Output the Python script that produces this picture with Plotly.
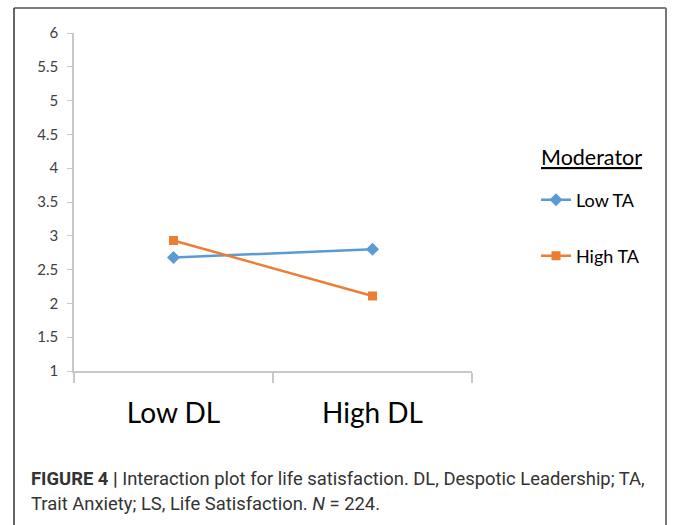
import plotly.graph_objects as go

categories = ["Low DL", "High DL"]
low_ta = [2.68, 2.80]
high_ta = [2.93, 2.11]
series_names = ["Low TA", "High TA"]
y_ticks = [1, 1.5, 2, 2.5, 3, 3.5, 4, 4.5, 5, 5.5, 6]
y_tick_text = ["1", "1.5", "2", "2.5", "3", "3.5", "4", "4.5", "5", "5.5", "6"]

W, H = 673, 525
L, R, T, B = 74, 472, 33, 371
pw, ph = R - L, B - T

def px(x):
    return (x - L) / pw

def py(y):
    return (B - y) / ph

blue = "#5B9BD5"
orange = "#ED7D31"

fig = go.Figure()
fig.add_trace(go.Scatter(x=categories, y=low_ta, name=series_names[0], mode="lines+markers",
                         line=dict(color=blue, width=2.5),
                         marker=dict(symbol="diamond", size=10, color=blue), legend="legend"))
fig.add_trace(go.Scatter(x=categories, y=high_ta, name=series_names[1], mode="lines+markers",
                         line=dict(color=orange, width=2.5),
                         marker=dict(symbol="square", size=9, color=orange), legend="legend2"))

axis_gray = "#C8C8C8"
chart_font = "Lato, Open Sans, sans-serif"
cap_font = "Roboto, Liberation Sans, sans-serif"

fig.update_layout(
    width=W, height=H,
    margin=dict(l=L, r=W - R, t=T, b=H - B, pad=0),
    paper_bgcolor="white", plot_bgcolor="white",
    font=dict(family=chart_font, color="#404040"),
    xaxis=dict(type="category", range=[-0.5, 1.5], tickson="boundaries", ticks="outside",
               ticklen=10, tickcolor=axis_gray, tickwidth=1.5, showline=True, linecolor=axis_gray,
               linewidth=1.5, showgrid=False, zeroline=False,
               tickfont=dict(size=28, color="#000000", family=chart_font), ticklabelstandoff=17),
    yaxis=dict(range=[1, 6], tickvals=y_ticks, ticktext=y_tick_text, ticks="outside", ticklen=5,
               tickcolor=axis_gray, tickwidth=1, showline=True, linecolor=axis_gray, linewidth=1.5,
               showgrid=False, zeroline=False, tickfont=dict(size=15, color="#404040"),
               ticklabelstandoff=6),
    legend=dict(x=px(536), y=py(200), xanchor="left", yanchor="middle", bgcolor="rgba(0,0,0,0)",
                font=dict(size=18, color="#000000", family=chart_font)),
    legend2=dict(x=px(536), y=py(256), xanchor="left", yanchor="middle", bgcolor="rgba(0,0,0,0)",
                 font=dict(size=18, color="#000000", family=chart_font)),
    showlegend=True,
)

fig.add_annotation(x=px(591), y=py(157), xref="paper", yref="paper", text="<u>Moderator</u>",
                   showarrow=False, xanchor="center", yanchor="middle",
                   font=dict(size=21.5, color="#000000", family=chart_font))

fig.add_annotation(x=px(29), y=py(478), xref="paper", yref="paper",
                   text="<b>FIGURE 4 |</b> Interaction plot for life satisfaction. DL, Despotic Leadership; TA,",
                   showarrow=False, xanchor="left", yanchor="middle",
                   font=dict(size=18.4, color="#333333", family=cap_font))
fig.add_annotation(x=px(29), y=py(503), xref="paper", yref="paper",
                   text="Trait Anxiety; LS, Life Satisfaction. <i>N</i> = 224.",
                   showarrow=False, xanchor="left", yanchor="middle",
                   font=dict(size=18.4, color="#333333", family=cap_font))

# frame around the figure
fig.add_shape(type="line", xref="paper", yref="paper", x0=px(14), x1=px(666), y0=py(8), y1=py(8),
              line=dict(color="#555555", width=1.5))
fig.add_shape(type="line", xref="paper", yref="paper", x0=px(14), x1=px(14), y0=py(8), y1=py(525),
              line=dict(color="#333333", width=1.5))
fig.add_shape(type="line", xref="paper", yref="paper", x0=px(666), x1=px(666), y0=py(8), y1=py(525),
              line=dict(color="#777777", width=2))

fig.write_html("out.html", config={"displayModeBar": False},
               post_script="document.body.style.margin='0';document.body.style.overflow='hidden';")
